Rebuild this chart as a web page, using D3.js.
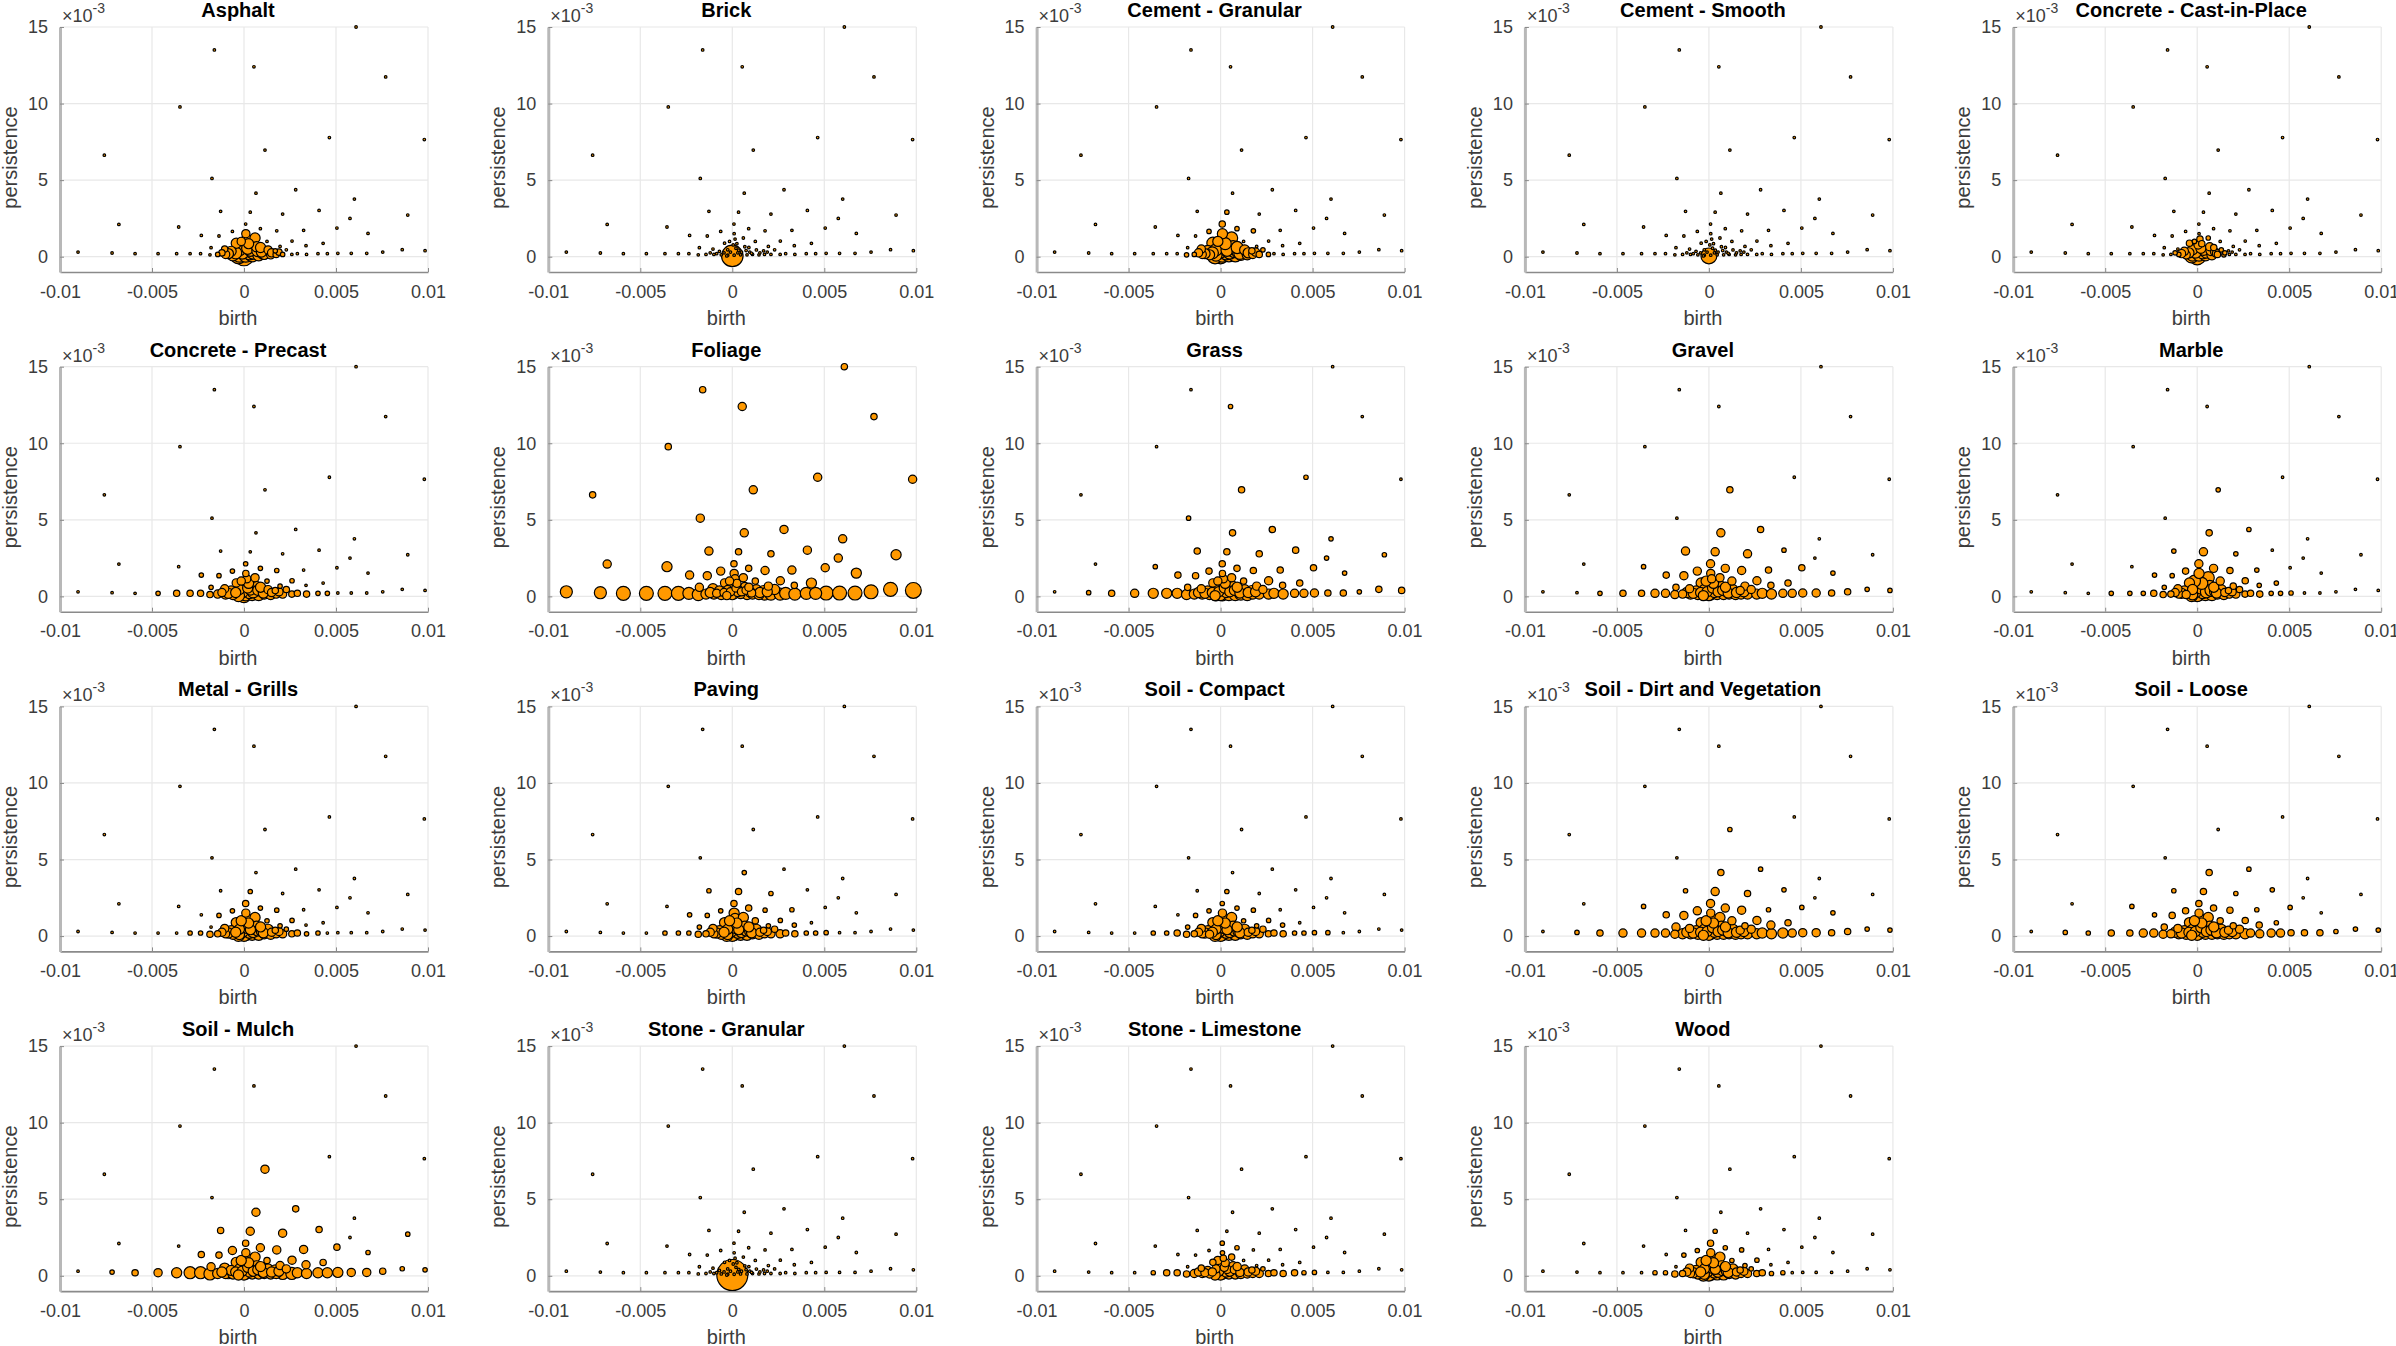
<!DOCTYPE html>
<html>
<head>
<meta charset="utf-8">
<script src="https://cdn.jsdelivr.net/npm/d3@7"></script>
<style>
  body { margin: 0; background: #fff; }
  text { font-family: 'Liberation Sans', Arial, Helvetica, sans-serif; }
</style>
</head>
<body>
<svg id="canvas"></svg>
<script>
// panel titles (row by row)
const materials = ['Asphalt', 'Brick', 'Cement - Granular', 'Cement - Smooth', 'Concrete - Cast-in-Place',
  'Concrete - Precast', 'Foliage', 'Grass', 'Gravel', 'Marble',
  'Metal - Grills', 'Paving', 'Soil - Compact', 'Soil - Dirt and Vegetation', 'Soil - Loose',
  'Soil - Mulch', 'Stone - Granular', 'Stone - Limestone', 'Wood'];

// shared diagram points: sparse points, bottom row (left / middle / right), central cluster, inner cluster
const birth = [
  0.00609, -0.00161, 0.00054, 0.00770, -0.00348, 0.00464, 0.00980, 0.00114, -0.00759, -0.00174,
  0.00065, 0.00281, 0.00600, -0.00127, 0.00034, 0.00408, 0.00210, 0.00890, 0.00576, -0.00680,
  0.00009, -0.00355, 0.00505, 0.00089, -0.00063, 0.00178, 0.00324, 0.00674, -0.00232, -0.00136,
  0.00261, 0.00430, 0.00337, 0.00196, -0.00179, 0.00125,
  -0.00902, -0.00717, -0.00592, -0.00467, -0.00366, -0.00293, -0.00236, -0.00185, -0.00143,
  -0.00100, -0.00060, -0.00025, 0.00010, 0.00045, 0.00080, 0.00110, 0.00145, 0.00175,
  0.00210, 0.00260, 0.00290, 0.00340, 0.00402, 0.00453, 0.00510, 0.00583, 0.00667, 0.00754, 0.00860, 0.00984,
  0.00010, 0.00015, 0.00060, -0.00042, -0.00105, 0.00005, 0.00068, 0.00131,
  -0.00070, -0.00025, 0.00035, 0.00095, 0.00170, 0.00230, 0.00000, 0.00030,
  -0.00120, -0.00085, -0.00045, -0.00010, 0.00020, 0.00050, 0.00075, 0.00105,
  0.00025, -0.00015, 0.00090, 0.00150, 0.00190, -0.00030
];
const persistence = [
  0.01500, 0.01350, 0.01240, 0.01174, 0.00978, 0.00778, 0.00765, 0.00696, 0.00663, 0.00511,
  0.00415, 0.00437, 0.00376, 0.00296, 0.00291, 0.00302, 0.00278, 0.00272, 0.00250, 0.00211,
  0.00213, 0.00194, 0.00187, 0.00183, 0.00165, 0.00169, 0.00172, 0.00152, 0.00139, 0.00135,
  0.00102, 0.00087, 0.00072, 0.00067, 0.00059, 0.00100,
  0.00030, 0.00024, 0.00020, 0.00020, 0.00020, 0.00020, 0.00020, 0.00012, 0.00015,
  0.00015, 0.00012, 0.00010, 0.00010, 0.00012, 0.00012, 0.00015, 0.00012, 0.00015,
  0.00015, 0.00015, 0.00020, 0.00015, 0.00020, 0.00020, 0.00022, 0.00022, 0.00022, 0.00030, 0.00046, 0.00039,
  0.00150, 0.00115, 0.00122, 0.00088, 0.00050, 0.00077, 0.00065, 0.00044,
  0.00035, 0.00045, 0.00042, 0.00030, 0.00038, 0.00045, 0.00005, 0.00025,
  0.00025, 0.00020, 0.00025, 0.00030, 0.00055, 0.00030, 0.00040, 0.00022,
  0.00085, 0.00100, 0.00060, 0.00025, 0.00030, 0.00005
];

// marker size per point for each material (hex digit per point, groups of 36|9|9|12|16|14)
const sizes = [
  '000000000000000000000000000000000000 000000001 356665432 100000000000 3444254345541096 24565655434327',
  '000000000000000000000000000000000000 000000000 000000000 000000000000 00000000000000a0 00000000000000',
  '0000000000 0000100000 2001110000 000000 000000011 345666543 210000000000 4555355455552176 34566665545437',
  '000000000000000000000000000000000000 000000000 000000000 000000000000 0000000000000070 00000000000000',
  '000000000000000000000000000000000000 000000000 135554210 000000000000 0212033134430085 13454543212106',
  '0000000000 0000000000 1001110011 100111 000122223 445555443 322211000000 2333344344442265 34454544434335',
  '2232233323 3333232433 2432333433 342332 556666554 443334445 555555666667 3333433443344433 43333333333443',
  '0010010201 2212222110 2122222122 322322 012344444 445555554 444433322122 2333344444444344 44444444434444',
  '0000000200 3203313000 3123332123 322323 001223333 444444444 444433332211 3334344444443344 44444444444444',
  '0000000100 2101301000 3003221011 211213 000111222 334555443 322211100000 4554355444542255 34555554554335',
  '0000000000 0000100000 2001110001 100101 000001122 344555443 322110000000 3444344444442155 34455554444335',
  '0000000000 1001201000 2002111011 101112 000011122 344555443 332211100000 4444344444442255 34455554444335',
  '0000000000 0000100000 1001110001 101111 000011222 334555443 322211110000 3444344444442255 34455554444335',
  '0000000100 2101312000 3113331123 323233 012333334 444444444 444443332211 3444344444443344 44444444444444',
  '0000000000 2101211000 2112221012 212222 011223333 444444444 443333222111 3444344444443344 44444444444444',
  '0000000300 3202323100 2023333122 323332 012345554 444444444 554444433211 3444444444444344 45444444444444',
  '000000000000000000000000000000000000 000000000 000000000 000000000000 00000000000000f0 00000000000000',
  '0000000000 0000000000 1001000000 000000 000012223 334444433 322221100000 1222233333332144 33343433333334',
  '0000000000 0000100000 2001110001 100101 000001122 344555443 322110000000 3444344444442155 34455554444335'
];

const xTicks = [-0.01, -0.005, 0, 0.005, 0.01];
const yTicks = [0, 0.005, 0.01, 0.015];

// layout
let width = 2396;
let height = 1346;
let plotW = 368;
let plotH = 245;
let colStep = 488.3;
let rowStep = 339.7;
let left0 = 60;
let top0 = 27;

let canvas = d3.select('#canvas');
canvas.attr('width', width);
canvas.attr('height', height);

let xScale = d3.scaleLinear().domain([-0.01, 0.01]).range([0, plotW]);
let yScale = d3.scaleLinear().domain([-0.001, 0.015]).range([plotH, 0]);
let rScale = d3.scaleLinear().domain([0, 15]).range([1.3, 15.5]);

let drawPanel = (name, i) => {
  let row = Math.floor(i / 5);
  let col = i % 5;
  let g = canvas.append('g')
    .attr('transform', 'translate(' + (left0 + col * colStep) + ',' + (top0 + row * rowStep) + ')');

  // grid
  g.append('g').selectAll('line.vg').data(xTicks).enter().append('line')
    .attr('x1', d => xScale(d)).attr('x2', d => xScale(d))
    .attr('y1', 0).attr('y2', plotH)
    .attr('stroke', '#e8e8e8').attr('stroke-width', 1.2);
  g.append('g').selectAll('line.hg').data(yTicks).enter().append('line')
    .attr('x1', 0).attr('x2', plotW)
    .attr('y1', d => yScale(d)).attr('y2', d => yScale(d))
    .attr('stroke', '#e8e8e8').attr('stroke-width', 1.2);

  // axes
  let xAxis = d3.axisBottom(xScale).tickValues(xTicks)
    .tickSizeInner(-4).tickSizeOuter(0).tickPadding(13)
    .tickFormat(d => String(+d.toFixed(3)));
  let yAxis = d3.axisLeft(yScale).tickValues(yTicks)
    .tickSizeInner(-4).tickSizeOuter(0).tickPadding(12)
    .tickFormat(d => String(Math.round(d * 1000)));

  let gx = g.append('g').attr('transform', 'translate(0,' + plotH + ')').call(xAxis);
  gx.select('.domain').attr('stroke', '#8a8a8a').attr('stroke-width', 1.6);
  gx.selectAll('.tick line').attr('stroke', '#8a8a8a');
  gx.selectAll('text').attr('fill', '#3c3c3c').style('font-size', '18px');

  let gy = g.append('g').call(yAxis);
  gy.select('.domain').attr('stroke', '#b8b8b8').attr('stroke-width', 3);
  gy.selectAll('.tick line').attr('stroke', '#8a8a8a');
  gy.selectAll('text').attr('fill', '#3c3c3c').style('font-size', '18px');

  // points: bigger markers first so the small ones stay visible
  let codes = sizes[i].replace(/ /g, '').split('').map(c => parseInt(c, 16));
  if (codes.length !== birth.length) console.warn(name, codes.length);
  let pts = birth.map((b, k) => ({ b: b, p: persistence[k], s: codes[k] }));
  pts.sort((a, b) => b.s - a.s);
  g.append('g').selectAll('circle').data(pts).enter().append('circle')
    .attr('cx', d => xScale(d.b))
    .attr('cy', d => yScale(d.p))
    .attr('r', d => rScale(d.s))
    .attr('fill', '#ff9900')
    .attr('stroke', '#000')
    .attr('stroke-width', 1.2);

  // exponent
  let ex = g.append('text').attr('x', 2).attr('y', -5)
    .attr('fill', '#3c3c3c').style('font-size', '18px');
  ex.append('tspan').text('\u00d710');
  ex.append('tspan').attr('dy', -9).style('font-size', '14px').text('-3');

  // labels
  g.append('text').attr('x', plotW / 2 - 6).attr('y', -10)
    .attr('text-anchor', 'middle').attr('fill', '#000')
    .style('font-size', '20px').style('font-weight', 'bold')
    .text(name);
  g.append('text').attr('x', plotW / 2 - 6).attr('y', plotH + 53)
    .attr('text-anchor', 'middle').attr('fill', '#3c3c3c')
    .style('font-size', '20px').text('birth');
  g.append('text')
    .attr('transform', 'translate(-43,' + (plotH / 2 + 8) + ') rotate(-90)')
    .attr('text-anchor', 'middle').attr('fill', '#3c3c3c')
    .style('font-size', '20px').text('persistence');
};

materials.forEach((m, i) => drawPanel(m, i));
</script>
</body>
</html>
